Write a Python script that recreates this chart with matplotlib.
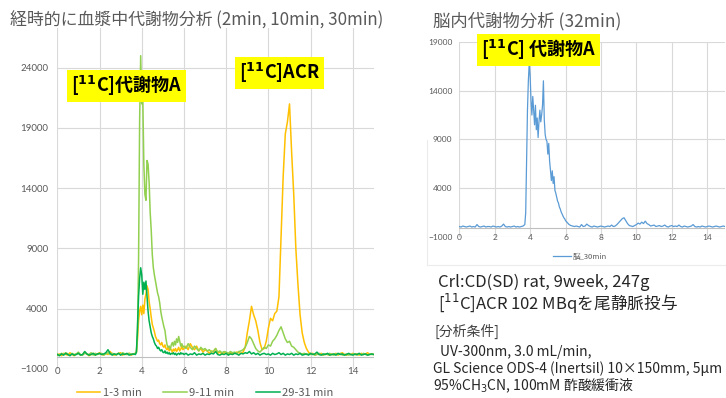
import matplotlib
matplotlib.use("Agg")
import matplotlib.pyplot as plt
import numpy as np
from matplotlib.lines import Line2D

JP = ['Noto Sans CJK JP', 'DejaVu Sans']
plt.rcParams['font.family'] = JP

# time axis (min): coarse baseline, finer around the 4 min peak
t = np.round(np.concatenate([np.linspace(0, 3.6, 37),
                             np.linspace(3.7, 5.95, 46),
                             np.linspace(6.0, 15.0, 91)]), 2)

# plasma, 1-3 min
s_1_3 = [150, 250, 100, 300, 200, 150, 350, 200, 100, 250,
         300, 150, 200, 400, 250, 100, 200, 300, 150, 250,
         350, 200, 150, 300, 200, 450, 250, 150, 200, 300,
         350, 150, 250, 200, 300, 150, 250,
         300, 400, 1500, 3000, 3800, 4200, 3500, 4300, 3600, 4800,
         5200, 5900, 5600, 4600, 4000, 3300, 2700, 2400, 2100, 1700,
         1500, 1300, 1400, 1100, 1000, 1200, 900, 800, 1000, 700,
         600, 800, 500, 700, 600, 400, 650, 500, 700, 450,
         600, 800, 500, 650, 900, 600,
         700, 900, 600, 1100, 800, 600, 900, 500, 700, 400,
         600, 500, 300, 500, 400, 700, 300, 400, 250, 350,
         300, 200, 350, 250, 300, 400, 350, 300, 400, 800,
         2000, 3000, 4200, 3500, 3000, 2200, 1200, 600, 700, 1300,
         2400, 3200, 3000, 3600, 3800, 5000, 10000, 15000, 18500, 19500,
         21000, 17000, 13500, 9000, 6000, 3500, 2000, 1200, 700, 400,
         250, 300, 150, 250, 200, 300, 150, 250, 200, 150,
         250, 200, 300, 150, 250, 350, 200, 150, 250, 200,
         300, 200, 250, 150, 300, 200, 250, 350, 200, 250,
         200]

# plasma, 9-11 min
s_9_11 = [250, 150, 300, 200, 350, 250, 150, 300, 200, 250,
          400, 200, 150, 300, 250, 200, 350, 150, 300, 200,
          250, 300, 150, 250, 350, 200, 300, 250, 150, 300,
          200, 350, 250, 200, 300, 250, 200,
          300, 500, 2000, 8000, 19500, 25000, 21000, 21500, 16000, 13500,
          13000, 16300, 16000, 14500, 12000, 10500, 8500, 7400, 6800, 6300,
          5800, 5300, 5000, 4500, 3800, 3300, 2900, 2500, 2200, 1500,
          1000, 800, 900, 600, 1000, 1200, 900, 1300, 1000, 1500,
          1200, 1700, 1300, 900, 1100, 800,
          900, 700, 1100, 800, 600, 900, 700, 500, 800, 600,
          700, 500, 600, 400, 500, 700, 400, 500, 350, 450,
          400, 300, 450, 350, 400, 300, 450, 500, 600, 800,
          1200, 1700, 1500, 1100, 700, 500, 400, 600, 800, 700,
          1000, 900, 1300, 1500, 1800, 2200, 2500, 2000, 1500, 1200,
          1300, 900, 800, 600, 400, 300, 250, 300, 200, 250,
          200, 250, 150, 200, 300, 200, 150, 250, 200, 300,
          200, 150, 250, 200, 300, 150, 200, 250, 150, 200,
          250, 200, 150, 250, 200, 300, 200, 150, 250, 200,
          200]

# plasma, 29-31 min
s_29_31 = [200, 100, 250, 150, 300, 200, 100, 250, 150, 200,
           300, 150, 200, 450, 250, 150, 200, 300, 150, 250,
           300, 200, 250, 350, 600, 300, 150, 250, 200, 300,
           150, 250, 200, 300, 150, 200, 250,
           200, 400, 2500, 5000, 6500, 7400, 6800, 5200, 6200, 5600,
           6300, 5000, 3800, 3000, 2500, 2000, 1700, 1500, 1200, 1000,
           900, 700, 800, 600, 500, 600, 400, 350, 500, 300,
           400, 250, 350, 200, 300, 250, 350, 200, 300, 150,
           250, 300, 200, 350, 250, 300,
           200, 300, 150, 250, 200, 350, 150, 250, 200, 300,
           150, 250, 200, 300, 250, 450, 200, 150, 250, 200,
           300, 150, 250, 200, 300, 250, 150, 300, 250, 350,
           300, 450, 250, 350, 200, 300, 150, 250, 300, 200,
           250, 150, 300, 200, 250, 350, 200, 300, 150, 250,
           200, 300, 150, 250, 200, 300, 150, 200, 250, 150,
           300, 200, 250, 400, 200, 150, 250, 200, 300, 150,
           200, 250, 150, 300, 200, 250, 150, 200, 300, 200,
           150, 250, 200, 300, 150, 200, 250, 150, 200, 250,
           200]

# brain, 30 min
brain_30 = [100, 50, 150, 100, 50, 100, 150, 50, 100, 50,
            300, 100, 50, 100, 150, 50, 100, 100, 50, 150,
            100, 50, 100, 50, 150, 350, 100, 50, 100, 50,
            100, 150, 50, 100, 50, 100, 150,
            300, 1500, 6500, 12000, 15000, 16800, 15500, 13000, 11500, 13400,
            12000, 10500, 12500, 10000, 11200, 9200, 10800, 12000, 10800, 11500,
            12500, 15000, 11000, 9500, 9000, 8800, 7500, 8600, 6800, 5800,
            4800, 5800, 4500, 5200, 3800, 3500, 3100, 2700, 2500, 2100,
            1900, 1600, 1400, 1200, 1000, 900,
            700, 500, 300, 200, 150, 100, 150, 100, 50, 300,
            100, 150, 350, 200, 100, 50, 150, 100, 50, 100,
            150, 100, 50, 100, 150, 100, 250, 100, 150, 300,
            500, 700, 900, 1000, 700, 400, 200, 150, 100, 200,
            300, 450, 350, 550, 400, 650, 400, 300, 150, 200,
            250, 100, 150, 200, 100, 150, 250, 100, 50, 150,
            200, 100, 150, 100, 250, 100, 50, 150, 100, 50,
            100, 150, 300, 100, 50, 100, 50, 150, 100, 50,
            100, 150, 100, 50, 100, 150, 100, 50, 100, 150,
            100]

x_ticks = [0, 2, 4, 6, 8, 10, 12, 14]
y_ticks_plasma = [-1000, 4000, 9000, 14000, 19000, 24000]
y_ticks_brain = [-1000, 4000, 9000, 14000, 19000]

GRID = '#d9d9d9'
TXT = '#595959'

fig = plt.figure(figsize=(7.26, 3.98), dpi=100)
ax1 = fig.add_axes([0.0789, 0.0729, 0.4362, 0.8568])
ax2 = fig.add_axes([0.6326, 0.4038, 0.366, 0.4915])


def style(ax, yticks, ymax, size, xpad, ypad):
    for sp in ax.spines.values():
        sp.set_visible(False)
    ax.set_xlim(0, 15)
    ax.set_ylim(-1000, ymax)
    ax.set_xticks(x_ticks)
    ax.set_yticks(yticks)
    ax.grid(True, color=GRID, lw=0.8)
    ax.set_axisbelow(True)
    ax.axhline(0, color='#bfbfbf', lw=0.8, zorder=1)
    ax.tick_params(length=0, labelsize=size, labelcolor=TXT)
    ax.tick_params(axis='x', pad=xpad)
    ax.tick_params(axis='y', pad=ypad)
    for lab in ax.get_xticklabels() + ax.get_yticklabels():
        lab.set_fontfamily(['Lato', 'DejaVu Sans'])


style(ax1, y_ticks_plasma, 27300, 7, -1.5, 6.5)
style(ax2, y_ticks_brain, 19000, 6, -2.5, 5)

ax1.plot(t, s_1_3, color='#ffc000', lw=1.1, label='1-3 min')
ax1.plot(t, s_9_11, color='#92d050', lw=1.1, label='9-11 min')
ax1.plot(t, s_29_31, color='#00b050', lw=1.1, label='29-31 min')
ax2.plot(t, brain_30, color='#5b9bd5', lw=0.9, label='脳_30min')

ax1.legend(loc='center', bbox_to_anchor=(0.2824, 0.012), bbox_transform=fig.transFigure,
           ncol=3, frameon=False, fontsize=8, labelcolor=TXT, handlelength=2.1,
           handletextpad=0.2, columnspacing=2.0)
ax2.legend(loc='center', bbox_to_anchor=(0.799, 0.354), bbox_transform=fig.transFigure,
           frameon=False, fontsize=5.5, labelcolor=TXT, handlelength=2.3,
           handletextpad=0.3)

# titles
fig.text(0.0138, 0.948, '経時的に血漿中代謝物分析 (2min, 10min, 30min)', fontsize=12.2,
         color=TXT, va='center', ha='left')
fig.text(0.5964, 0.9455, '脳内代謝物分析 (32min)', fontsize=12.5, color=TXT,
         va='center', ha='left')

# yellow labels
box = dict(facecolor='#ffff00', edgecolor='none', pad=3)
fig.text(0.1742, 0.784, r'[$^{\mathbf{11}}$C]代謝物A', fontsize=13, fontweight='bold',
         ha='center', va='center', bbox=box)
fig.text(0.385, 0.8166, r'[$^{\mathbf{11}}$C]ACR', fontsize=13, fontweight='bold',
         ha='center', va='center', bbox=box)
fig.text(0.7417, 0.8744, r'[$^{\mathbf{11}}$C] 代謝物A', fontsize=13, fontweight='bold',
         ha='center', va='center', bbox=box)

# faint frame of the brain chart
fig.add_artist(Line2D([427 / 726, 427 / 726], [1 - 265 / 398, 1 - 140 / 398],
                      color='#ececec', lw=0.8))
fig.add_artist(Line2D([427 / 726, 1.0], [1 - 265 / 398, 1 - 265 / 398],
                      color='#ececec', lw=0.8))

# conditions
fig.text(0.603, 0.2915, 'Crl:CD(SD) rat, 9week, 247g', fontsize=12, color='#262626',
         va='center', ha='left')
fig.text(0.603, 0.236, r'[$^{11}$C]ACR 102 MBqを尾静脈投与', fontsize=12, color='#262626',
         va='center', ha='left')
fig.text(0.599, 0.168, '[分析条件]', fontsize=10, color='#404040', va='center', ha='left')
fig.text(0.606, 0.1156, 'UV-300nm, 3.0 mL/min,', fontsize=10, color='#262626',
         va='center', ha='left')
fig.text(0.5964, 0.0729, 'GL Science ODS-4 (Inertsil) 10×150mm, 5µm', fontsize=10,
         color='#262626', va='center', ha='left')
fig.text(0.5964, 0.0302, r'95%CH$_3$CN, 100mM 酢酸緩衝液', fontsize=10, color='#262626',
         va='center', ha='left')

fig.savefig('out.png', dpi=100)
